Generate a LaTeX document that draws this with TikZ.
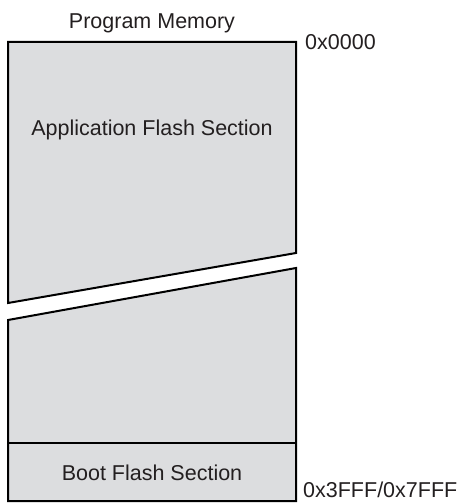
\documentclass[tikz,border=0pt]{standalone}
\usepackage{fontspec}
\setmainfont{Liberation Sans}
\tikzstyle{mem-block}=[draw=black, line width=2pt, fill={memfill}]
\tikzstyle{mem-text}=[anchor=base, inner sep=0pt, text={memtext}, font=\fontsize{21.5}{25}\selectfont]
\definecolor{memfill}{HTML}{DCDDDF}
\definecolor{memtext}{HTML}{231F20}

\begin{document}
\begin{tikzpicture}[x=1pt, y=-1pt]
      \useasboundingbox (0, 0) rectangle (460, 503);
      % upper part of the memory, cut off at the break
      \draw [mem-block] (8, 42) -- (296, 42) -- (296, 253) -- (8, 303) -- cycle;
      % lower part of the memory
      \draw [mem-block] (8, 320) -- (296, 268) -- (296, 501) -- (8, 501) -- cycle;
      \draw [line width=1.6pt] (8, 443) -- (296, 443);
      \node (memtitle) at (152, 28.5) [mem-text] {Program Memory};
      \node (appsection) at (152, 135) [mem-text] {Application Flash Section};
      \node (bootsection) at (152, 480) [mem-text] {Boot Flash Section};
      \node (addrstart) at (305, 50) [mem-text, anchor=base west] {0x0000};
      \node (addrend) at (303, 497) [mem-text, anchor=base west] {0x3FFF/0x7FFF};
    \end{tikzpicture}
\end{document}
